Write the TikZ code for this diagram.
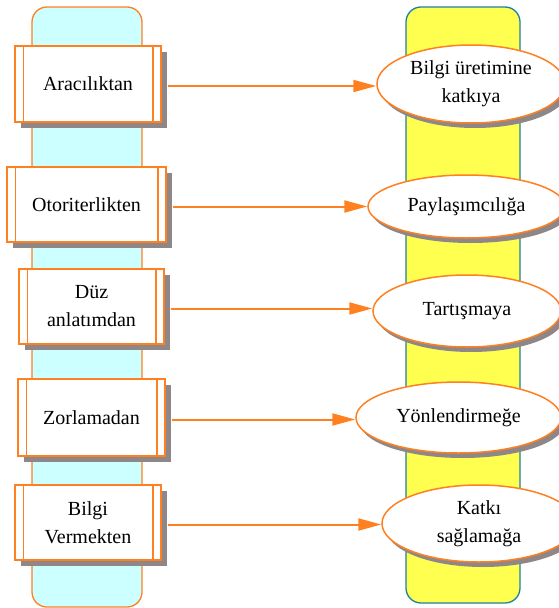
\documentclass[tikz,border=0pt]{standalone}
\usepackage{fontspec}
\setmainfont{Liberation Serif}
\usetikzlibrary{shadows,arrows.meta,shapes.geometric}
\definecolor{edgeorange}{RGB}{255,128,32}
\definecolor{lanecyan}{RGB}{204,255,255}
\definecolor{laneyellow}{RGB}{255,255,80}
\definecolor{laneblue}{RGB}{30,128,165}
\definecolor{shadowgrey}{RGB}{143,135,135}
\begin{document}
\begin{tikzpicture}[x=1pt,y=-1pt,
  every node/.style={font=\fontsize{20}{28}\selectfont, align=center, inner sep=0pt},
  lane/.style={rectangle, rounded corners=15pt, line width=1.3pt},
  procbox/.style={rectangle, draw=edgeorange, fill=white, line width=1.5pt,
    drop shadow={shadow xshift=6pt, shadow yshift=-6pt, fill=shadowgrey, opacity=1}},
  goal/.style={ellipse, draw=edgeorange, fill=white, line width=1.5pt,
    drop shadow={shadow xshift=4pt, shadow yshift=-5pt, fill=shadowgrey, opacity=1}},
  bar/.style={draw=edgeorange, line width=1.5pt},
  flow/.style={draw=edgeorange, line width=2pt, -{Triangle[length=23pt,width=12pt]}}
]
\path[use as bounding box, clip] (0,0) rectangle (559,608);

% the two swim lanes
\node[lane, draw=edgeorange, fill=lanecyan, minimum width=110, minimum height=600] (laneL) at (87,307) {};
\node[lane, draw=laneblue, fill=laneyellow, minimum width=114, minimum height=596] (laneR) at (463,305) {};

% process boxes on the left
\node[procbox, minimum width=146, minimum height=76] (b1) at (88,84) {Aracılıktan};
\node[procbox, minimum width=159, minimum height=75] (b2) at (86.5,204.5) {Otoriterlikten};
\node[procbox, minimum width=145, minimum height=75] (b3) at (91.5,306.5) {Düz\\anlatımdan};
\node[procbox, minimum width=147, minimum height=77] (b4) at (91.5,417.5) {Zorlamadan};
\node[procbox, minimum width=146, minimum height=75] (b5) at (88,522.5) {Bilgi\\Vermekten};

% inner side bars of the process boxes
\foreach \b in {b1,b2,b3,b4,b5}{
  \draw[bar] ([xshift=9pt]\b.north west) -- ([xshift=9pt]\b.south west);
  \draw[bar] ([xshift=-9pt]\b.north east) -- ([xshift=-9pt]\b.south east);
}

% target ellipses on the right
\node[goal, minimum width=188, minimum height=78] (e1) at (471,84) {Bilgi üretimine\\katkıya};
\node[goal, minimum width=197, minimum height=63] (e2) at (466.5,206.5) {Paylaşımcılığa};
\node[goal, minimum width=188, minimum height=72] (e3) at (467,311) {Tartışmaya};
\node[goal, minimum width=205, minimum height=71] (e4) at (458.5,417.5) {Yönlendirmeğe};
\node[goal, minimum width=194, minimum height=77] (e5) at (479,523.5) {Katkı\\sağlamağa};

% connectors
\foreach \i in {1,...,5}{
  \draw[flow] ([xshift=6pt,yshift=-2pt]b\i.east) coordinate (s\i) -- (s\i -| e\i.west);
}
\end{tikzpicture}
\end{document}
